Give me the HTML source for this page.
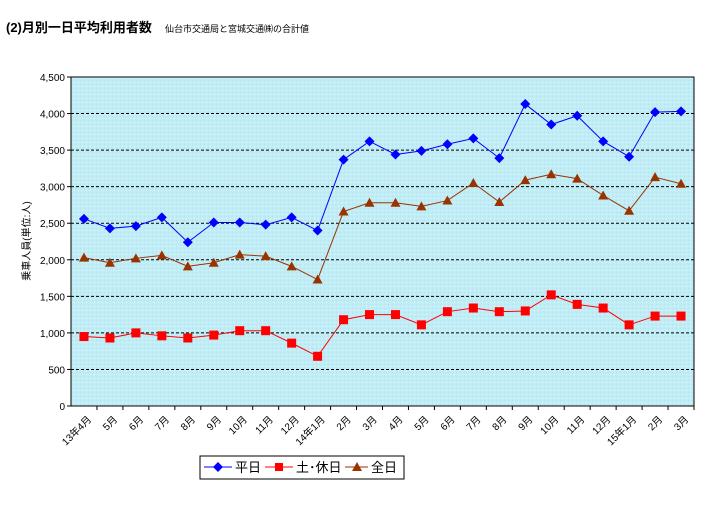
<!DOCTYPE html>
<html><head><meta charset="utf-8"><style>
body{margin:0;background:#fff;}
svg{font-family:"Liberation Sans","Noto Sans CJK JP",sans-serif;}
</style></head><body>
<svg width="717" height="513" viewBox="0 0 717 513" xmlns="http://www.w3.org/2000/svg">
<defs><pattern id="dots" width="4" height="4" patternUnits="userSpaceOnUse">
<rect width="4" height="4" fill="#bdeef6"/><rect x="0" y="0" width="1" height="1" fill="#d4d4f2"/><rect x="2" y="2" width="1" height="1" fill="#e4f8fb"/></pattern></defs>
<text x="6" y="32" font-size="13" font-weight="bold">(2)月別一日平均利用者数</text>
<text x="165" y="32" font-size="9">仙台市交通局と宮城交通㈱の合計値</text>
<rect x="71" y="77" width="623" height="329" fill="url(#dots)" stroke="#000" stroke-width="1"/>
<g id="grid"></g><g id="yt"></g><g id="xt"></g><g id="series"></g>
<text transform="translate(30,241) rotate(-90)" font-size="10" text-anchor="middle">乗車人員(単位:人)</text>
<g>
<rect x="200" y="456" width="204" height="23" fill="#fff" stroke="#000"/>
<line x1="204" y1="467" x2="232" y2="467" stroke="#00f"/><path d="M218,462 L223,467 L218,472 L213,467Z" fill="#00f"/>
<text x="235" y="472" font-size="13">平日</text>
<line x1="265" y1="467" x2="293" y2="467" stroke="#f00"/><rect x="275" y="463" width="8" height="8" fill="#f00"/>
<text x="296" y="472" font-size="13">土･休日</text>
<line x1="345" y1="467" x2="368" y2="467" stroke="#993300"/><path d="M357,462 L362,471 L352,471Z" fill="#993300"/>
<text x="371" y="472" font-size="13">全日</text>
</g>
</svg>
<script>
const categories=["13年4月","5月","6月","7月","8月","9月","10月","11月","12月","14年1月","2月","3月","4月","5月","6月","7月","8月","9月","10月","11月","12月","15年1月","2月","3月"];
const weekday=[2560,2430,2460,2580,2240,2510,2510,2480,2580,2400,3370,3620,3440,3490,3580,3660,3390,4130,3850,3970,3620,3410,4020,4030];
const holiday=[950,930,1000,960,930,970,1030,1030,860,680,1180,1250,1250,1110,1290,1340,1290,1300,1520,1390,1340,1110,1230,1230];
const allday=[2030,1960,2020,2060,1910,1960,2070,2050,1910,1730,2660,2780,2780,2730,2810,3050,2790,3090,3170,3110,2880,2670,3130,3040];
const yTicks=[0,500,1000,1500,2000,2500,3000,3500,4000,4500];
const yTickLabels=["0","500","1,000","1,500","2,000","2,500","3,000","3,500","4,000","4,500"];
const NS="http://www.w3.org/2000/svg";
const L=71,R=694,T=77,B=406,ymax=4500;
const bw=(R-L)/categories.length;
const X=i=>L+bw*(i+0.5);
const Y=v=>B-(v/ymax)*(B-T);
function mk(tag,attrs,parent){const e=document.createElementNS(NS,tag);for(const k in attrs)e.setAttribute(k,attrs[k]);parent.appendChild(e);return e;}
const grid=document.getElementById('grid'),yt=document.getElementById('yt'),xt=document.getElementById('xt'),ser=document.getElementById('series');
yTicks.forEach((v,i)=>{
 if(v>0&&v<ymax){const g=mk('line',{x1:L,x2:R,y1:Y(v),y2:Y(v),stroke:'#000','stroke-dasharray':'3,2'},grid);
 
 }
 mk('line',{x1:L-4,x2:L,y1:Y(v),y2:Y(v),stroke:'#000'},yt);
 const t=mk('text',{x:L-6,y:Y(v)+4,'font-size':'10','text-anchor':'end'},yt);
 t.textContent=yTickLabels[i];
 
 
});
categories.forEach((c,i)=>{
 mk('line',{x1:L+bw*(i+1),x2:L+bw*(i+1),y1:B,y2:B+4,stroke:'#000'},xt);
 const x=X(i)+8,y=B+14;
 const t=mk('text',{x:x,y:y,'font-size':'10','text-anchor':'end',transform:`rotate(-45 ${x} ${y})`},xt);
 t.textContent=c;
 
 
});
function series(vals,color,shape,name){
 const g=mk('g',{},ser);
 
 
 mk('polyline',{points:vals.map((v,i)=>X(i)+','+Y(v)).join(' '),fill:'none',stroke:color,'stroke-width':1},g);
 vals.forEach((v,i)=>{const x=X(i),y=Y(v);let m;
  if(shape==='d')m=mk('path',{d:`M${x},${y-5}L${x+5},${y}L${x},${y+5}L${x-5},${y}Z`,fill:color},g);
  else if(shape==='s')m=mk('rect',{x:x-4.5,y:y-4.5,width:9,height:9,fill:color},g);
  else m=mk('path',{d:`M${x},${y-5}L${x+5},${y+4}L${x-5},${y+4}Z`,fill:color},g);
  
  
 });
}
series(allday,'#993300','t','series-allday');
series(holiday,'#ff0000','s','series-holiday');
series(weekday,'#0000ff','d','series-weekday');
</script>
</body></html>
